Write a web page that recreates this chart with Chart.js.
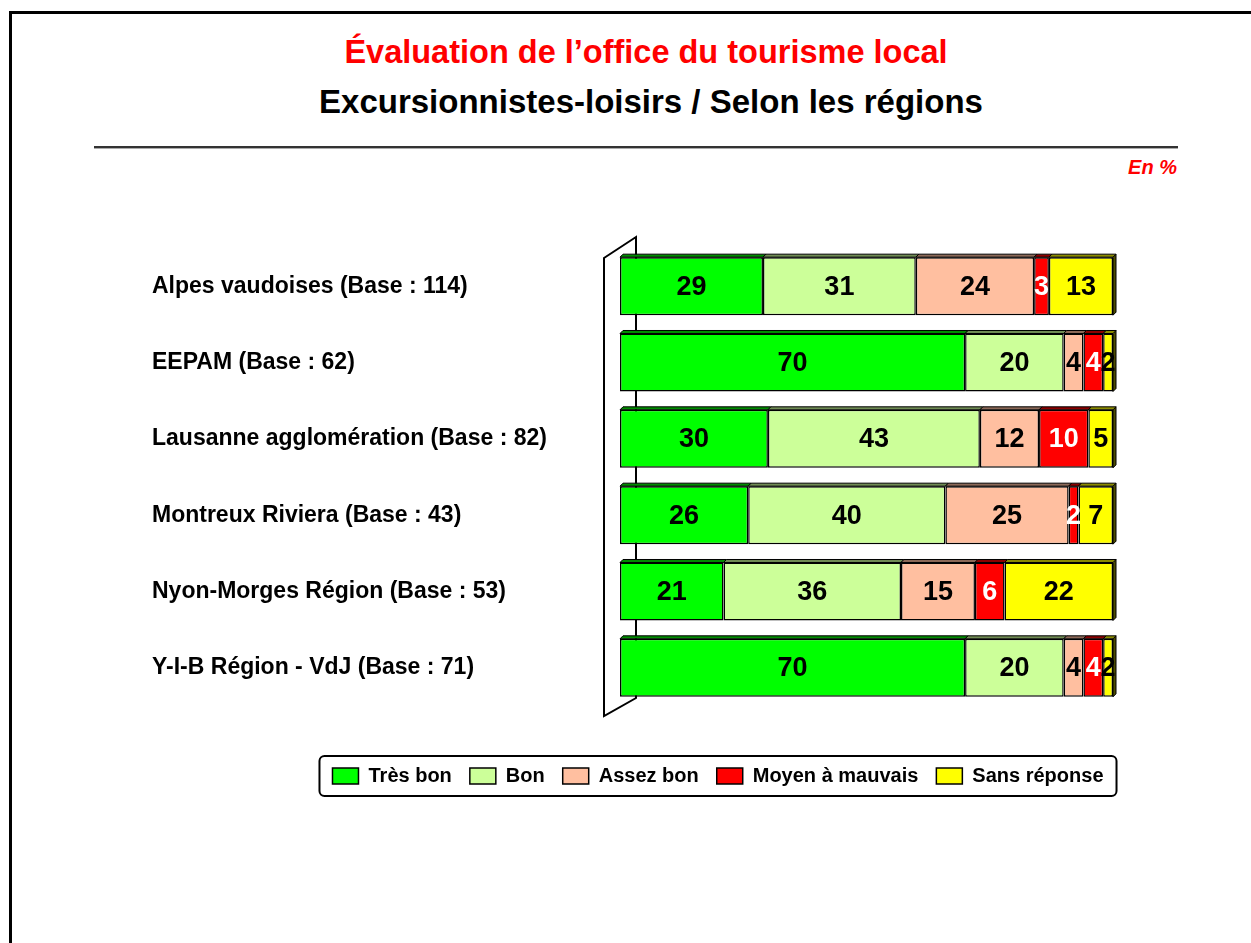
<!DOCTYPE html>
<html lang="fr">
<head>
<meta charset="utf-8">
<title>Évaluation de l'office du tourisme local</title>
<script src="https://cdn.jsdelivr.net/npm/chart.js@4.4.1/dist/chart.umd.min.js"></script>
<style>
  html, body { margin:0; padding:0; background:#fff; width:1251px; height:943px; overflow:hidden; font-family:"Liberation Sans", Arial, sans-serif; }
  .frame { position:absolute; left:9px; top:11px; width:1300px; height:1000px; border-left:3px solid #000; border-top:3px solid #000; }
  .t { position:absolute; white-space:nowrap; font-weight:bold; transform:translate(-50%,-50%); }
  #t1 { left:646px; top:52px; font-size:32.5px; color:#f00; }
  #t2 { left:651px; top:102px; font-size:33px; color:#000; }
  .rule { position:absolute; left:94px; top:146px; width:1084px; height:2px; background:#333; box-shadow:0 1px 0 #aaa; }
  #unit { position:absolute; right:74px; top:156px; font-size:20px; font-weight:bold; font-style:italic; color:#f00; }
  #wrap { position:absolute; left:152px; top:200px; width:988px; height:600px; }
</style>
</head>
<body>
<div class="frame"></div>
<div class="t" id="t1">Évaluation de l’office du tourisme local</div>
<div class="t" id="t2">Excursionnistes-loisirs / Selon les régions</div>
<div class="rule"></div>
<div id="unit">En %</div>
<div id="wrap"><canvas id="chart"></canvas></div>

<script>
const regions = [
  'Alpes vaudoises (Base : 114)',
  'EEPAM (Base : 62)',
  'Lausanne agglomération (Base : 82)',
  'Montreux Riviera (Base : 43)',
  'Nyon-Morges Région (Base : 53)',
  'Y-I-B Région - VdJ (Base : 71)'
];
const tresBon      = [29, 70, 30, 26, 21, 70];
const bon          = [31, 20, 43, 40, 36, 20];
const assezBon     = [24,  4, 12, 25, 15,  4];
const moyenMauvais = [ 3,  4, 10,  2,  6,  4];
const sansReponse  = [13,  2,  5,  7, 22,  2];

// darker shade of a #rrggbb colour, for the 3D faces
function shade(hex, f) {
  const n = parseInt(hex.slice(1), 16);
  const r = Math.round(((n >> 16) & 255) * f);
  const g = Math.round(((n >> 8) & 255) * f);
  const b = Math.round((n & 255) * f);
  return `rgb(${r},${g},${b})`;
}

// wall on the left and thin top / end faces on the bars
const depth3d = {
  id: 'depth3d',
  beforeDatasetsDraw(chart) {
    const {ctx, chartArea: a} = chart;
    ctx.save();
    ctx.lineWidth = 2;
    ctx.strokeStyle = '#000';
    ctx.fillStyle = '#fff';
    ctx.beginPath();
    ctx.moveTo(a.left - 16, a.top + 10);
    ctx.lineTo(a.left + 16, a.top - 11);
    ctx.lineTo(a.left + 16, a.bottom - 8);
    ctx.lineTo(a.left - 16, a.bottom + 10);
    ctx.closePath();
    ctx.fill();
    ctx.stroke();

    const d = 3;
    const last = chart.data.datasets.length - 1;
    ctx.lineWidth = 1;
    chart.data.datasets.forEach((ds, i) => {
      chart.getDatasetMeta(i).data.forEach(bar => {
        const {x, y, base, height} = bar.getProps(['x', 'y', 'base', 'height'], true);
        const top = y - height / 2, bottom = y + height / 2;
        if (i === last) {
          ctx.fillStyle = shade(ds.backgroundColor, 0.3);
          ctx.beginPath();
          ctx.moveTo(x, top);
          ctx.lineTo(x + d, top - d);
          ctx.lineTo(x + d, bottom - d);
          ctx.lineTo(x, bottom);
          ctx.closePath();
          ctx.fill();
          ctx.stroke();
        }
        ctx.fillStyle = shade(ds.backgroundColor, 0.55);
        ctx.beginPath();
        ctx.moveTo(base, top);
        ctx.lineTo(base + d, top - d);
        ctx.lineTo(x + d, top - d);
        ctx.lineTo(x, top);
        ctx.closePath();
        ctx.fill();
        ctx.stroke();
      });
    });
    ctx.restore();
  }
};

// values in the middle of each segment
const valueLabels = {
  id: 'valueLabels',
  afterDatasetsDraw(chart) {
    const {ctx} = chart;
    ctx.save();
    ctx.font = 'bold 27px "Liberation Sans Narrow", "Arial Narrow", "Liberation Sans", Arial, sans-serif';
    ctx.textAlign = 'center';
    ctx.textBaseline = 'middle';
    chart.data.datasets.forEach((ds, i) => {
      ctx.fillStyle = i === 3 ? '#fff' : '#000';
      chart.getDatasetMeta(i).data.forEach((bar, j) => {
        const {x, y, base} = bar.getProps(['x', 'y', 'base'], true);
        ctx.fillText(String(ds.data[j]), (x + base) / 2, y + 1);
      });
    });
    ctx.restore();
  }
};

// move the legend under the bars and frame it
const legendFrame = {
  id: 'legendFrame',
  afterLayout(chart) {
    const lg = chart.legend;
    const dx = 566 - (lg.left + lg.right) / 2;
    const dy = 577 - (lg.top + 29);
    lg.left += dx; lg.right += dx;
    lg.top += dy; lg.bottom += dy;
  },
  afterDraw(chart) {
    const hb = chart.legend.legendHitBoxes;
    if (!hb || !hb.length) return;
    const {ctx} = chart;
    const l = Math.min(...hb.map(h => h.left)) - 13;
    const r = Math.max(...hb.map(h => h.left + h.width)) + 13;
    const cy = hb[0].top + hb[0].height / 2;
    ctx.save();
    ctx.lineWidth = 2;
    ctx.strokeStyle = '#000';
    ctx.beginPath();
    ctx.roundRect(l, cy - 20, r - l, 40, 5);
    ctx.stroke();
    ctx.restore();
  }
};

Chart.defaults.font.family = '"Liberation Sans", Arial, sans-serif';
Chart.defaults.color = '#000';

const ctx = document.getElementById('chart').getContext('2d');
new Chart(ctx, {
  type: 'bar',
  data: {
    labels: regions,
    datasets: [
      { label: 'Très bon',        data: tresBon,      backgroundColor: '#00ff00' },
      { label: 'Bon',             data: bon,          backgroundColor: '#ccff99' },
      { label: 'Assez bon',       data: assezBon,     backgroundColor: '#ffbfa0' },
      { label: 'Moyen à mauvais', data: moyenMauvais, backgroundColor: '#ff0000' },
      { label: 'Sans réponse',    data: sansReponse,  backgroundColor: '#ffff00' }
    ]
  },
  options: {
    indexAxis: 'y',
    responsive: true,
    maintainAspectRatio: false,
    animation: false,
    datasets: {
      bar: {
        categoryPercentage: 1,
        barPercentage: 0.76,
        borderWidth: 1.5,
        borderColor: '#000',
        borderSkipped: false
      }
    },
    layout: { padding: { top: 48, right: 27, bottom: 46, left: 0 } },
    scales: {
      x: { stacked: true, min: 0, max: 100, display: false },
      y: {
        stacked: true,
        grid: { display: false },
        border: { display: false },
        ticks: { crossAlign: 'far', padding: 0, color: '#000', font: { size: 23, weight: 'bold' } },
        afterFit(scale) { scale.width = 468; }
      }
    },
    plugins: {
      tooltip: { enabled: false },
      legend: {
        position: 'bottom',
        labels: { boxWidth: 26, boxHeight: 16, padding: 18, color: '#000', font: { size: 20, weight: 'bold' } }
      }
    }
  },
  plugins: [depth3d, valueLabels, legendFrame]
});
</script>
</body>
</html>
